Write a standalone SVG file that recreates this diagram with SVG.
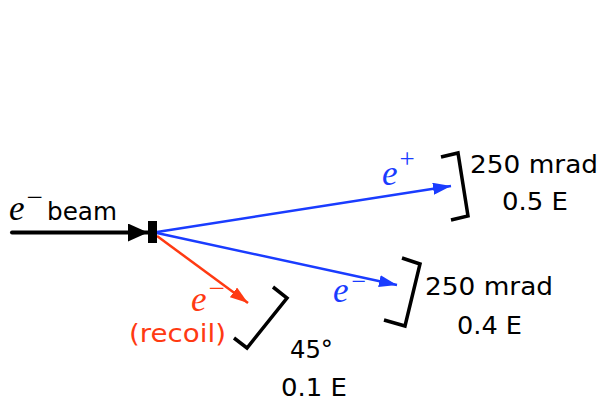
<svg xmlns="http://www.w3.org/2000/svg" width="604" height="405" viewBox="0 0 604 405">
<defs>
<style>
.sans{font-family:"DejaVu Sans",Lato,sans-serif;font-size:25px;fill:#000}
.math{font-family:"Liberation Serif","DejaVu Serif",serif;font-style:italic;font-size:35px}
.sup{font-family:"Liberation Serif","DejaVu Serif",serif;font-style:normal;font-size:29px}
.blue{fill:#1a3cff}
.red{fill:#ff3a12}
.brk{fill:none;stroke:#000;stroke-width:3.5;stroke-linejoin:miter;stroke-linecap:butt}
</style>
<marker id="ab" viewBox="0 0 18 12" refX="18" refY="6" markerWidth="18" markerHeight="12" markerUnits="userSpaceOnUse" orient="auto"><path d="M0,0 L18,6 L0,12 z" fill="#1a3cff"/></marker>
<marker id="ar" viewBox="0 0 18 12" refX="18" refY="6" markerWidth="18" markerHeight="12" markerUnits="userSpaceOnUse" orient="auto"><path d="M0,0 L18,6 L0,12 z" fill="#ff3a12"/></marker>
<marker id="ak" viewBox="0 0 20 18" refX="20" refY="9" markerWidth="20" markerHeight="18" markerUnits="userSpaceOnUse" orient="auto"><path d="M0,0 L20,9 L0,18 z" fill="#000"/></marker>
</defs>
<g id="connectors">
<line x1="12" y1="232.5" x2="148" y2="232.5" stroke="#000" stroke-width="4" stroke-linecap="round" marker-end="url(#ak)"/>
<line x1="157" y1="232" x2="451" y2="186" stroke="#1a3cff" stroke-width="2.5" marker-end="url(#ab)"/>
<line x1="157" y1="233" x2="397" y2="285" stroke="#1a3cff" stroke-width="2.5" marker-end="url(#ab)"/>
<line x1="157" y1="236" x2="248" y2="303" stroke="#ff3a12" stroke-width="2.5" marker-end="url(#ar)"/>
</g>
<g id="target"><rect x="148" y="221" width="9" height="22" fill="#000"/></g>
<g id="beam-label">
<text x="9" y="220" class="math">e<tspan class="sup" dx="2" dy="-13">−</tspan></text>
<text x="47" y="220" class="sans" textLength="70" lengthAdjust="spacingAndGlyphs">beam</text>
</g>
<g id="positron">
<text x="382" y="185" class="math blue">e<tspan class="sup" dx="2" dy="-17" style="font-size:27px">+</tspan></text>
<polyline class="brk" points="441,157 458,153 468,216 451,220"/>
<text x="470" y="173" class="sans" textLength="128" lengthAdjust="spacingAndGlyphs">250 mrad</text>
<text x="502" y="210" class="sans" textLength="66" lengthAdjust="spacingAndGlyphs">0.5 E</text>
</g>
<g id="electron">
<text x="333" y="302" class="math blue">e<tspan class="sup" dx="3" dy="-12" style="font-size:26px">−</tspan></text>
<polyline class="brk" points="402,258 420,264 405,326 384,320"/>
<text x="425" y="295" class="sans" textLength="128" lengthAdjust="spacingAndGlyphs">250 mrad</text>
<text x="457" y="334" class="sans" textLength="65" lengthAdjust="spacingAndGlyphs">0.4 E</text>
</g>
<g id="recoil">
<text x="191" y="311" class="math red">e<tspan class="sup" dx="2" dy="-13">−</tspan></text>
<text x="129" y="342" class="sans red" textLength="97" lengthAdjust="spacingAndGlyphs">(recoil)</text>
<polyline class="brk" points="273,287 287,298 247,348 234,338"/>
<text x="290" y="358" class="sans" textLength="43" lengthAdjust="spacingAndGlyphs">45°</text>
<text x="281" y="396" class="sans" textLength="66" lengthAdjust="spacingAndGlyphs">0.1 E</text>
</g>
</svg>
